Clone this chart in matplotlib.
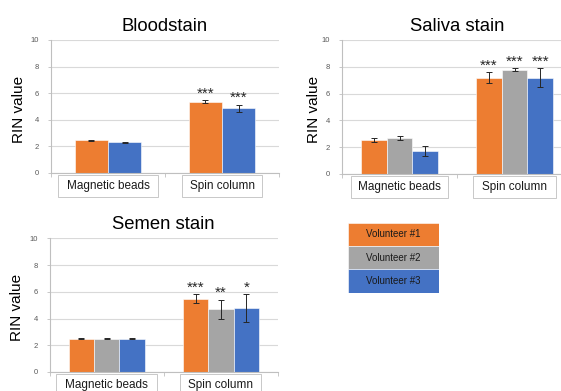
import matplotlib
matplotlib.use("Agg")
import matplotlib.pyplot as plt
from matplotlib.patches import Rectangle
import matplotlib.transforms as mtransforms

plt.rcParams['font.family'] = ['Liberation Sans', 'DejaVu Sans']

categories = ["Magnetic beads", "Spin column"]
volunteers = ["Volunteer #1", "Volunteer #2", "Volunteer #3"]
colors = ["#ED7D31", "#A5A5A5", "#4472C4"]

# Bloodstain (Volunteer #1, Volunteer #3)
blood_series = [0, 2]
blood_vals = [[2.45, 5.37], [2.30, 4.88]]
blood_err = [[0.03, 0.12], [0.02, 0.27]]
blood_stars = [["", "***"], ["", "***"]]

# Saliva stain (Volunteers #1-#3)
saliva_series = [0, 1, 2]
saliva_vals = [[2.55, 7.20], [2.69, 7.77], [1.73, 7.20]]
saliva_err = [[0.14, 0.42], [0.15, 0.12], [0.35, 0.72]]
saliva_stars = [["", "***"], ["", "***"], ["", "***"]]

# Semen stain (Volunteers #1-#3)
semen_series = [0, 1, 2]
semen_vals = [[2.50, 5.48], [2.50, 4.70], [2.50, 4.80]]
semen_err = [[0.02, 0.35], [0.02, 0.72], [0.02, 1.03]]
semen_stars = [["", "***"], ["", "**"], ["", "*"]]

yticks = [0, 2, 4, 6, 8, 10]

W, H = 561, 391
fig = plt.figure(figsize=(W / 100, H / 100), dpi=100)


def px_axes(x0, x1, ytop, ybot):
    return fig.add_axes([x0 / W, (H - ybot) / H, (x1 - x0) / W, (ybot - ytop) / H])


def draw_panel(ax, title, series, vals, errs, stars, barw, box_widths, ylab_x):
    n = len(series)
    for i, s in enumerate(series):
        xs = [c + 0.5 + (i - (n - 1) / 2) * barw for c in range(len(categories))]
        ax.bar(xs, vals[i], width=barw, color=colors[s], edgecolor='white',
               linewidth=0.4, zorder=2)
        ax.errorbar(xs, vals[i], yerr=errs[i], fmt='none', ecolor='#262626',
                    elinewidth=0.7, capsize=2, capthick=0.7, zorder=3)
        for x, v, e, st in zip(xs, vals[i], errs[i], stars[i]):
            if st:
                ax.annotate(st, (x, v + e), xytext=(0, -0.5), textcoords='offset points',
                            ha='center', va='bottom', fontsize=11, color='#262626')
    ax.set_xlim(0, 2)
    ax.set_ylim(0, 10)
    ax.set_yticks(yticks)
    ax.set_xticks([0, 1, 2])
    ax.set_xticklabels([])
    ax.tick_params(axis='y', labelsize=5.5, labelcolor='#595959', length=2.5,
                   color='#bfbfbf', width=0.6, pad=6)
    ax.tick_params(axis='x', length=3, color='#bfbfbf', width=0.6, direction='out')
    ax.grid(axis='y', color='#d9d9d9', linewidth=0.8, zorder=0)
    ax.set_axisbelow(True)
    for sp in ['top', 'right']:
        ax.spines[sp].set_visible(False)
    for sp in ['left', 'bottom']:
        ax.spines[sp].set_color('#bfbfbf')
        ax.spines[sp].set_linewidth(0.8)
    ax.set_title(title, fontsize=13.3, pad=6.5)
    ax.set_ylabel("RIN value", fontsize=11)
    ax.yaxis.set_label_coords(ylab_x, 0.48)
    trans = mtransforms.blended_transform_factory(ax.transData, ax.transAxes)
    for c, (cat, bw) in enumerate(zip(categories, box_widths)):
        cx = c + 0.5
        rect = Rectangle((cx - bw / 2, -0.18), bw, 0.165, transform=trans,
                         facecolor='white', edgecolor='#bfbfbf', linewidth=0.6,
                         clip_on=False)
        ax.add_patch(rect)
        ax.text(cx, -0.0975, cat, transform=trans, ha='center', va='center',
                fontsize=8.5, color='#1a1a1a')


ax1 = px_axes(51, 279, 40, 173)
draw_panel(ax1, "Bloodstain", blood_series, blood_vals, blood_err, blood_stars,
           0.29, [0.885, 0.71], -0.11)

ax2 = px_axes(342, 572, 40, 174)
draw_panel(ax2, "Saliva stain", saliva_series, saliva_vals, saliva_err, saliva_stars,
           0.224, [0.85, 0.73], -0.092)

ax3 = px_axes(49.5, 278, 238.3, 372)
draw_panel(ax3, "Semen stain", semen_series, semen_vals, semen_err, semen_stars,
           0.222, [0.885, 0.71], -0.11)

# Legend block
lax = px_axes(348, 439, 222.7, 292.7)
lax.set_xlim(0, 1)
lax.set_ylim(0, 3)
lax.axis('off')
for i, (name, col) in enumerate(zip(volunteers, colors)):
    y0 = 2 - i
    lax.add_patch(Rectangle((0, y0), 1, 1, facecolor=col, edgecolor='white', linewidth=0.4))
    lax.text(0.5, y0 + 0.5, name, ha='center', va='center', fontsize=7, color='#1a1a1a')

fig.savefig("out.png", dpi=100)
